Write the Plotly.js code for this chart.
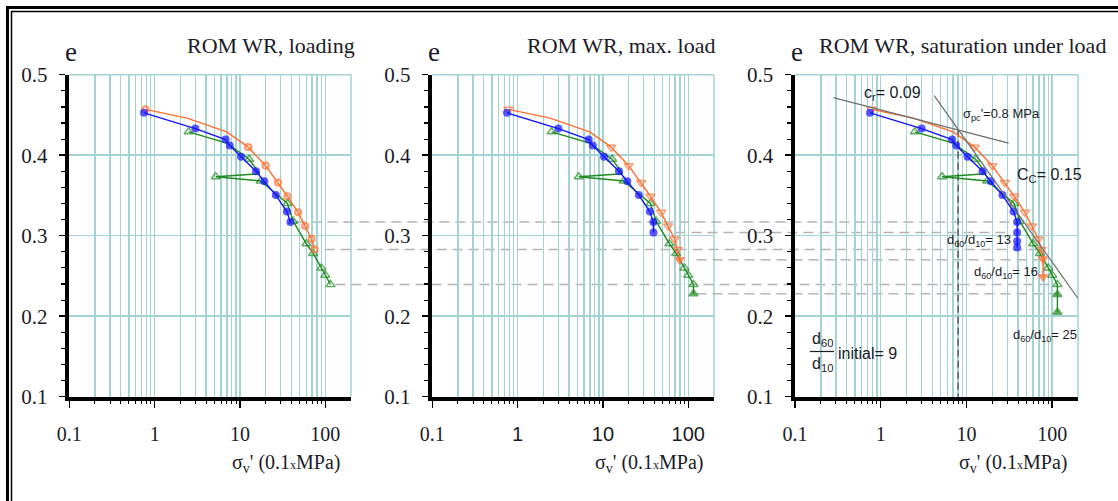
<!DOCTYPE html>
<html>
<head>
<meta charset="utf-8">
<script src="https://cdn.plot.ly/plotly-3.0.1.min.js"></script>
<style>
html,body{margin:0;padding:0;background:#fff;}
#chart{width:1118px;height:501px;}
</style>
</head>
<body>
<div id="chart"></div>
<script>
// ---------------- data ----------------
const panelTitles = ['ROM WR, loading', 'ROM WR, max. load', 'ROM WR, saturation under load'];
const yAxisLabel = 'e';
const xAxisLabel = 'σ<sub>v</sub>\' (0.1<span style="font-size:12px">x</span>MPa)';

const xTickVals = [0.1, 1, 10, 100];
const xTickText = ['0.1', '1', '10', '100'];
const xMinorVals = [0.2, 0.3, 0.4, 0.5, 0.6, 0.7, 0.8, 0.9, 2, 3, 4, 5, 6, 7, 8, 9, 20, 30, 40, 50, 60, 70, 80, 90];
const yTickVals = [0.1, 0.2, 0.3, 0.4, 0.5];
const yTickText = ['0.1', '0.2', '0.3', '0.4', '0.5'];

// loading path (common to all panels)
const orangeX = [0.78, 2.4, 7.0, 12.5, 20, 28, 36, 48, 58, 69, 75];
const orangeE = [0.457, 0.446, 0.429, 0.410, 0.387, 0.366, 0.349, 0.329, 0.312, 0.296, 0.283];
const orangeMarked = [1, 0, 0, 1, 1, 1, 1, 1, 1, 1, 1];

const blueX = [0.75, 3.0, 6.8, 7.6, 10.3, 15.4, 19.3, 26.3, 35.4, 39];
const blueE = [0.4526, 0.4331, 0.4195, 0.412, 0.398, 0.380, 0.3675, 0.3505, 0.330, 0.317];
const blueMarked = [1, 1, 1, 1, 1, 1, 1, 1, 1, 1];

const greenX = [2.5, 7.0, 12.8, 17, 5.2, 17.5, 36, 42, 60, 72, 90, 100, 115];
const greenE = [0.429, 0.415, 0.395, 0.377, 0.3733, 0.368, 0.340, 0.318, 0.290, 0.278, 0.260, 0.251, 0.2395];
const greenMarked = [1, 0, 1, 0, 1, 1, 1, 1, 1, 1, 1, 1, 1];

// max. load (creep at constant load)
const orangeMaxX = [79];
const orangeMaxE = [0.270];
const blueMaxX = [39];
const blueMaxE = [0.304];
const greenMaxX = [115];
const greenMaxE = [0.228];

// saturation under load
const orangeSatX = [78, 78];
const orangeSatE = [0.271, 0.249];
const blueSatX = [39, 39, 39];
const blueSatE = [0.304, 0.293, 0.2852];
const greenSatX = [115, 115];
const greenSatE = [0.227, 0.205];

// construction lines (panel 3)
const crLineX = [0.28, 31];
const crLineE = [0.4715, 0.415];
const ccLineX = [4.2, 200];
const ccLineE = [0.474, 0.222];
const pcLineX = [8, 8];
const pcLineE = [0.4315, 0.1];

const ratioLabels = ['13', '16', '25'];
const crText = 'c<sub>r</sub>= 0.09';
const pcText = 'σ<sub>pc</sub>\'=0.8 MPa';
const ccText = 'C<sub>C</sub>= 0.15';
const initialRatio = '9';

// ---------------- layout helpers ----------------
const W = 1118, H = 501;
const px = p => p / W;
const py = p => 1 - p / H;
const xDomains = [[69.3 / W, 351 / W], [432.3 / W, 714 / W], [795 / W, 1078 / W]];
const yDomain = [1 - 396.7 / H, 1 - 74.7 / H];
const xRange = [-1, Math.log10(200)];
const yRange = [0.1, 0.5];
const GRID = '#a3d3d3';
const SERIF = 'Liberation Serif, Times New Roman, serif';
const SANS = 'Liberation Sans, Arial, sans-serif';
const TXT = '#1b1b28';

const ORANGE = '#ff6f30', BLUE = '#1414ff', GREEN = '#1f8a1f';

function toPaperX(panel, v) {
  const d = xDomains[panel];
  return d[0] + (Math.log10(v) - xRange[0]) / (xRange[1] - xRange[0]) * (d[1] - d[0]);
}
function axSuffix(i) { return i ? String(i + 1) : ''; }

function seriesTrace(panel, bx, be, marked, ex, ee, st) {
  const x = bx.concat(ex), y = be.concat(ee);
  const n = bx.length;
  const symbol = x.map((_, i) => i < n ? st.open : st.filled);
  const size = x.map((_, i) => (i < n && !marked[i]) ? 0 : st.size);
  return {
    type: 'scatter', mode: 'lines+markers', x: x, y: y,
    xaxis: 'x' + axSuffix(panel), yaxis: 'y' + axSuffix(panel),
    line: {color: st.color, width: 1.4},
    marker: {symbol: symbol, size: size, color: st.color, line: {color: st.color, width: st.lw}},
    hoverinfo: 'skip', cliponaxis: false
  };
}

const stGreen = {color: GREEN, open: 'triangle-up-open', filled: 'triangle-up', size: 8, lw: 1.5};
const stBlue = {color: BLUE, open: 'circle', filled: 'circle', size: 8, lw: 0};
const stOrange1 = {color: ORANGE, open: 'circle-open', filled: 'circle', size: 6, lw: 2.2};
const stOrange = {color: ORANGE, open: 'triangle-down-open', filled: 'triangle-down', size: 8, lw: 1.5};

const traces = [];
traces.push({type: 'scatter', mode: 'lines', x: pcLineX, y: pcLineE, xaxis: 'x3', yaxis: 'y3',
  line: {color: '#555', width: 1.4, dash: '7px,4px'}, hoverinfo: 'skip'});
const ext = [
  {o: [[], []], b: [[], []], g: [[], []]},
  {o: [orangeMaxX, orangeMaxE], b: [blueMaxX, blueMaxE], g: [greenMaxX, greenMaxE]},
  {o: [orangeSatX, orangeSatE], b: [blueSatX, blueSatE], g: [greenSatX, greenSatE]}
];
for (let p = 0; p < 3; p++) {
  traces.push(seriesTrace(p, greenX, greenE, greenMarked, ext[p].g[0], ext[p].g[1], stGreen));
  traces.push(seriesTrace(p, orangeX, orangeE, orangeMarked, ext[p].o[0], ext[p].o[1], p === 0 ? stOrange1 : stOrange));
  traces.push(seriesTrace(p, blueX, blueE, blueMarked, ext[p].b[0], ext[p].b[1], stBlue));
}
traces.push({type: 'scatter', mode: 'lines', x: crLineX, y: crLineE, xaxis: 'x3', yaxis: 'y3',
  line: {color: '#6e6e6e', width: 1.2}, hoverinfo: 'skip'});
traces.push({type: 'scatter', mode: 'lines', x: ccLineX, y: ccLineE, xaxis: 'x3', yaxis: 'y3',
  line: {color: '#6e6e6e', width: 1.2}, hoverinfo: 'skip'});

const layout = {
  width: W, height: H,
  margin: {l: 0, r: 0, t: 0, b: 0},
  paper_bgcolor: '#fff', plot_bgcolor: 'rgba(0,0,0,0)',
  showlegend: false, hovermode: false,
  shapes: [], annotations: []
};

const panel2Text = xTickText.map((t, i) => i === 0 ? t : '<span style="font-family:Liberation Sans">' + t + '</span>');

for (let i = 0; i < 3; i++) {
  const s = axSuffix(i);
  layout['xaxis' + s] = {
    type: 'log', domain: xDomains[i], range: xRange, anchor: 'y' + s,
    showline: true, linecolor: '#000', linewidth: 4,
    ticks: 'outside', ticklen: 7, tickwidth: 1.5, tickcolor: '#000',
    tickmode: 'array', tickvals: xTickVals, ticktext: i === 1 ? panel2Text : xTickText,
    tickfont: {family: SERIF, size: 20, color: TXT}, ticklabelstandoff: 9,
    showgrid: true, gridcolor: GRID, gridwidth: 1.5, zeroline: false,
    minor: {tickmode: 'array', tickvals: xMinorVals, ticks: 'outside', ticklen: 3, tickwidth: 1, tickcolor: '#000',
      showgrid: true, gridcolor: GRID, gridwidth: 1.5},
    fixedrange: true
  };
  layout['yaxis' + s] = {
    domain: yDomain, range: yRange, anchor: 'x' + s,
    showline: true, linecolor: '#000', linewidth: 4.5,
    ticks: 'outside', ticklen: 6, tickwidth: 1.5, tickcolor: '#000',
    tickmode: 'array', tickvals: yTickVals, ticktext: yTickText,
    tickfont: {family: SERIF, size: 21, color: TXT}, ticklabelstandoff: 7,
    showgrid: true, gridcolor: GRID, gridwidth: 1.5, zeroline: false,
    minor: {dtick: 0.02, tick0: 0.1, ticks: 'outside', ticklen: 4, tickwidth: 1.2, tickcolor: '#000', showgrid: false},
    fixedrange: true
  };
  layout.shapes.push({type: 'line', xref: 'x' + s + ' domain', yref: 'y' + s + ' domain', x0: 0, x1: 1, y0: 1, y1: 1,
    line: {color: GRID, width: 1.5}, layer: 'below'});
  layout.shapes.push({type: 'line', xref: 'x' + s + ' domain', yref: 'y' + s + ' domain', x0: 1, x1: 1, y0: 0, y1: 1,
    line: {color: GRID, width: 1.5}, layer: 'below'});
  layout.annotations.push({text: panelTitles[i], xref: 'paper', yref: 'paper',
    x: px([357, 717, 1108][i]), y: py(45), xanchor: 'right', yanchor: 'middle', showarrow: false,
    font: {family: SERIF, size: 22, color: TXT}});
  layout.annotations.push({text: yAxisLabel, xref: 'paper', yref: 'paper',
    x: xDomains[i][0] + px(2), y: py(52), xanchor: 'center', yanchor: 'middle', showarrow: false,
    font: {family: SERIF, size: 27, color: TXT}});
  layout.annotations.push({text: xAxisLabel, xref: 'paper', yref: 'paper',
    x: xDomains[i][1] - px(8), y: py(463), xanchor: 'right', yanchor: 'middle', showarrow: false,
    font: {family: SERIF, size: 20, color: TXT}});
}

const links = [
  {e: blueE[blueE.length - 1], from: [0, blueX[blueX.length - 1]], to: blueSatX[0], g0: 5, g1: -4},
  {e: blueMaxE[0], from: [1, blueMaxX[0]], to: blueSatX[0], g0: 22, g1: -6},
  {e: orangeE[orangeE.length - 1], from: [0, orangeX[orangeX.length - 1]], to: orangeSatX[0], g0: 10, g1: 0},
  {e: orangeMaxE[0], from: [1, orangeMaxX[0]], to: orangeSatX[0], g0: 17, g1: -2},
  {e: greenE[greenE.length - 1], from: [0, greenX[greenX.length - 1]], to: greenSatX[0], g0: 5, g1: 0},
  {e: greenMaxE[0], from: [1, greenMaxX[0]], to: greenSatX[0], g0: 3, g1: 0}
];
links.forEach(k => {
  layout.shapes.push({type: 'line', xref: 'paper', yref: 'y',
    x0: toPaperX(k.from[0], k.from[1]) + px(k.g0), x1: toPaperX(2, k.to) + px(k.g1), y0: k.e, y1: k.e,
    line: {color: '#b4b4b4', width: 1.5, dash: '10px,6px'}, layer: 'below'});
});

layout.shapes.push({type: 'rect', xref: 'paper', yref: 'paper', x0: px(7.5), x1: px(1130), y0: py(7.5), y1: py(520),
  line: {color: '#000', width: 3}});
layout.shapes.push({type: 'rect', xref: 'paper', yref: 'paper', x0: px(11.5), x1: px(1126), y0: py(11.5), y1: py(516),
  line: {color: '#000', width: 1.5}});

const ann = (text, x, y, size, anchor) => layout.annotations.push({text: text, xref: 'paper', yref: 'paper',
  x: px(x), y: py(y), xanchor: anchor || 'left', yanchor: 'middle', showarrow: false,
  font: {family: SANS, size: size, color: TXT}});
ann(crText, 862, 93, 16);
ann(pcText, 961, 115, 13);
ann(ccText, 1015, 176, 16);
ann('d<sub>60</sub>/d<sub>10</sub>= ' + ratioLabels[0], 945, 240, 13);
ann('d<sub>60</sub>/d<sub>10</sub>= ' + ratioLabels[1], 972, 272, 13);
ann('d<sub>60</sub>/d<sub>10</sub>= ' + ratioLabels[2], 1011, 335, 13);
ann('d<sub>60</sub>', 822, 339, 16, 'center');
ann('d<sub>10</sub>', 822, 364, 16, 'center');
ann('initial= ' + initialRatio, 836, 353, 16);
layout.shapes.push({type: 'line', xref: 'paper', yref: 'paper', x0: px(810), x1: px(834), y0: py(351.5), y1: py(351.5),
  line: {color: TXT, width: 1.2}});

Plotly.newPlot('chart', traces, layout, {staticPlot: true, displayModeBar: false});
</script>
</body>
</html>
